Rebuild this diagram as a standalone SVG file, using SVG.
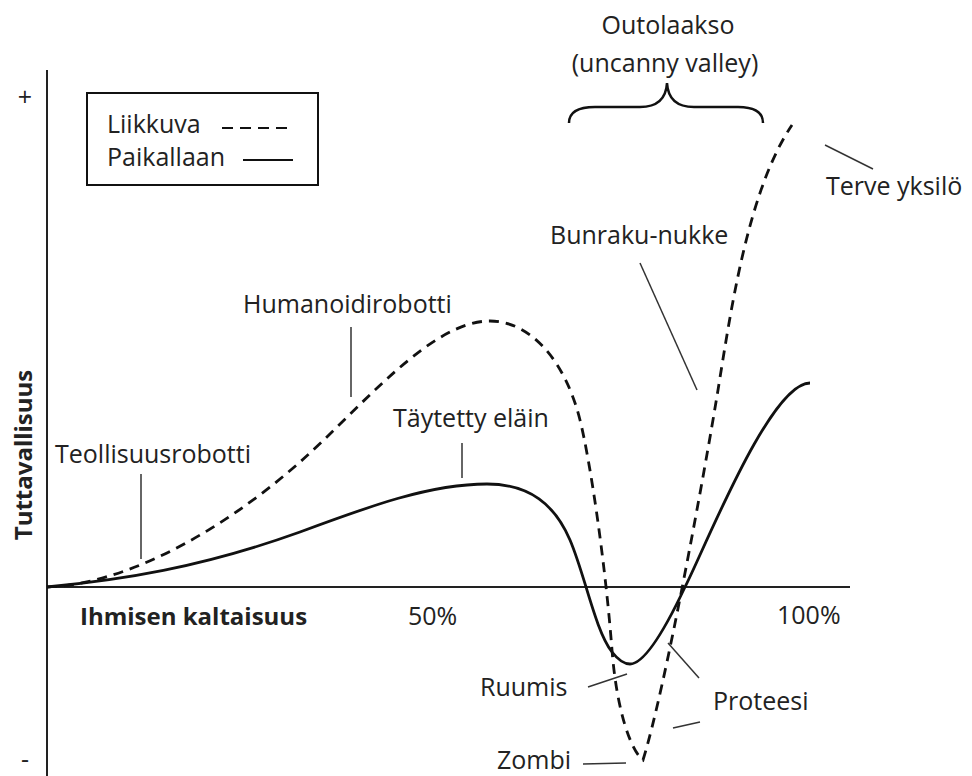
<svg xmlns="http://www.w3.org/2000/svg" width="972" height="776" viewBox="0 0 972 776">
  <style>
    text { font-family: "Open Sans", "DejaVu Sans", sans-serif; font-size: 25px; fill: #222; }
    .bold { font-weight: bold; font-size: 24px; }
    .axis { stroke: #222; stroke-width: 2; fill: none; }
    .leader { stroke: #333; stroke-width: 1.5; fill: none; }
    .moving { stroke: #111; stroke-width: 2.8; fill: none; stroke-dasharray: 10 7; }
    .still { stroke: #111; stroke-width: 2.8; fill: none; }
    .brace { stroke: #111; stroke-width: 2.5; fill: none; }
  </style>

  <!-- axes -->
  <g id="axes">
    <line class="axis" x1="47" y1="70" x2="47" y2="776"/>
    <line class="axis" x1="47" y1="587" x2="850" y2="587"/>
    <text x="25" y="106" text-anchor="middle">+</text>
    <text x="25" y="768" text-anchor="middle" font-size="22">-</text>
    <text class="bold" transform="translate(32,455) rotate(-90)" text-anchor="middle">Tuttavallisuus</text>
    <text class="bold" x="80" y="625">Ihmisen kaltaisuus</text>
    <text x="408" y="625">50%</text>
    <text x="777" y="624">100%</text>
  </g>

  <!-- legend -->
  <g id="legend">
    <rect x="87" y="93" width="231" height="92" fill="#fff" stroke="#111" stroke-width="2"/>
    <text x="107" y="133">Liikkuva</text>
    <line x1="222" y1="128" x2="287" y2="128" stroke="#111" stroke-width="2" stroke-dasharray="11 7"/>
    <text x="107" y="166">Paikallaan</text>
    <line x1="243" y1="160" x2="293" y2="160" stroke="#111" stroke-width="2"/>
  </g>

  <!-- curves -->
  <g id="curves">
    <path id="still-curve" class="still" d="M47,587 C120,580 200,568 300,532 C370,506 430,484 487,484 C530,484 555,505 570,540 C585,575 595,630 612,652 C619,661 624,664 630,664 C642,664 660,640 685,587 C705,548 770,383 810,383"/>
    <path id="moving-curve" class="moving" d="M47,587 C120,585 215,537 300,462 C360,409 430,321 490,321 C530,321 565,360 580,420 C590,460 605,560 612,650 C617,714 632,752 643,760 C665,690 705,470 718,390 C731,310 748,190 792,125"/>
  </g>

  <!-- uncanny valley brace -->
  <g id="valley-brace">
    <path class="brace" d="M569,123 C569,112 578,107 595,107 L640,107 C656,107 666,100 667,83 C668,100 678,107 694,107 L738,107 C754,107 763,112 763,123"/>
    <text x="668" y="34" text-anchor="middle">Outolaakso</text>
    <text x="665" y="72" text-anchor="middle">(uncanny valley)</text>
  </g>

  <!-- label leaders -->
  <g id="leaders">
    <line class="leader" x1="141" y1="474" x2="141" y2="559"/>
    <line class="leader" x1="351" y1="327" x2="351" y2="397"/>
    <line class="leader" x1="462" y1="443" x2="462" y2="478"/>
    <line class="leader" x1="640" y1="263" x2="697" y2="390"/>
    <line class="leader" x1="825" y1="145" x2="873" y2="169"/>
    <line class="leader" x1="588" y1="687" x2="627" y2="674"/>
    <line class="leader" x1="668" y1="643" x2="699" y2="678"/>
    <line class="leader" x1="673" y1="728" x2="700" y2="722"/>
    <line class="leader" x1="583" y1="764" x2="626" y2="763"/>
  </g>

  <!-- labels -->
  <g id="labels">
    <text id="teollisuusrobotti" x="55" y="463">Teollisuusrobotti</text>
    <text id="humanoidirobotti" x="243" y="313">Humanoidirobotti</text>
    <text id="taytetty-elain" x="393" y="427">Täytetty eläin</text>
    <text id="bunraku-nukke" x="550" y="244">Bunraku-nukke</text>
    <text id="terve-yksilo" x="826" y="195" font-size="25.5">Terve yksilö</text>
    <text id="ruumis" x="480" y="696">Ruumis</text>
    <text id="proteesi" x="713" y="710">Proteesi</text>
    <text id="zombi" x="497" y="769">Zombi</text>
  </g>
</svg>
